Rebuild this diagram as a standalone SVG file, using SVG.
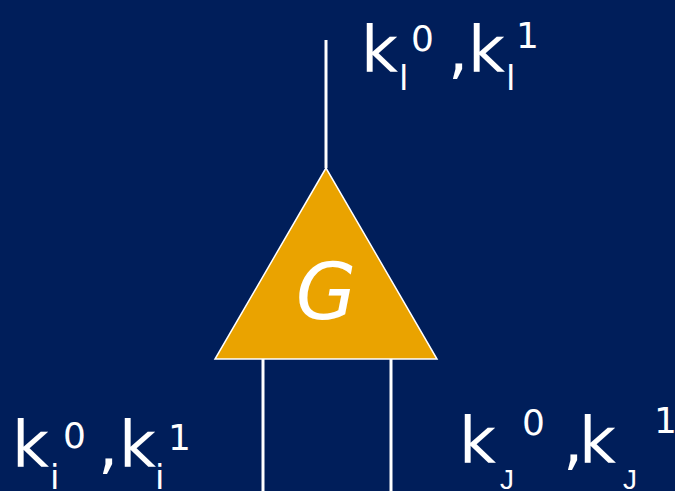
<svg xmlns="http://www.w3.org/2000/svg" width="675" height="491" viewBox="0 0 675 491">
<style>
.w{stroke:#ffffff;stroke-width:3;fill:none}
.t{fill:#ffffff;font-family:"DejaVu Sans",sans-serif}
.big{font-size:64px}
.sm{font-size:34px}
.sup{font-size:36px}
.j{font-size:28px;font-family:"Liberation Sans",sans-serif}
</style>
<rect width="675" height="491" fill="#001E5A"/>
<g id="connectors">
<line class="w" x1="326" y1="40" x2="326" y2="168"/>
<line class="w" x1="263" y1="359" x2="263" y2="491"/>
<line class="w" x1="391" y1="359" x2="391" y2="491"/>
</g>
<g id="gate">
<polygon points="326,168 215,359 437,359" fill="#EAA300" stroke="#ffffff" stroke-width="1.5"/>
<text class="t" x="326" y="319" font-size="78" font-style="italic" text-anchor="middle">G</text>
</g>
<g id="label-top">
<text class="t big" x="361" y="72">k</text>
<text class="t sm" x="399" y="90">l</text>
<text class="t sup" x="411" y="51">0</text>
<text class="t big" x="448" y="72">,</text>
<text class="t big" x="468" y="72">k</text>
<text class="t sm" x="506" y="90">l</text>
<text class="t sup" x="516" y="48">1</text>
</g>
<g id="label-left">
<text class="t big" x="12" y="467">k</text>
<text class="t sm" x="50" y="489">i</text>
<text class="t sup" x="63" y="448">0</text>
<text class="t big" x="98" y="467">,</text>
<text class="t big" x="119" y="467">k</text>
<text class="t sm" x="155" y="489">i</text>
<text class="t sup" x="168" y="450">1</text>
</g>
<g id="label-right">
<text class="t big" x="459" y="463">k</text>
<text class="t j" x="500" y="489">J</text>
<text class="t sup" x="522" y="435">0</text>
<text class="t big" x="563" y="463">,</text>
<text class="t big" x="579" y="463">k</text>
<text class="t j" x="623" y="489">J</text>
<text class="t sup" x="654" y="433">1</text>
</g>
</svg>
